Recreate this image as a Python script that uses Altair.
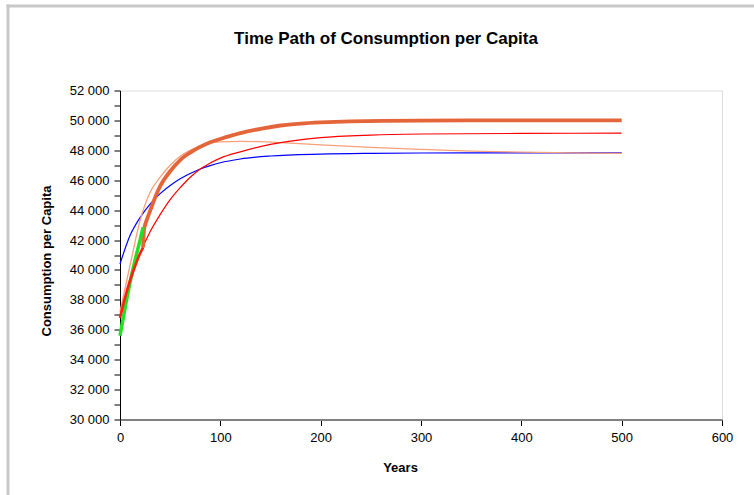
import altair as alt
import pandas as pd

# ---- data ----
blue_years = [0, 10, 20, 30, 40, 50, 60, 70, 80, 90, 100, 120, 150, 200, 250, 300, 400, 500]
blue_vals = [40400, 42300, 43500, 44400, 45100, 45650, 46100, 46450, 46750, 46980, 47170, 47420, 47620, 47750, 47800, 47820, 47830, 47830]

red_years = [0, 10, 20, 30, 40, 50, 60, 70, 80, 90, 100, 120, 150, 200, 250, 300, 400, 500]
red_vals = [36800, 39300, 41100, 42550, 43700, 44700, 45500, 46200, 46750, 47150, 47480, 47900, 48400, 48850, 49020, 49090, 49130, 49150]

lorange_years = [0, 10, 20, 30, 40, 50, 60, 70, 80, 90, 100, 120, 140, 160, 200, 250, 300, 350, 400, 450, 500]
lorange_vals = [37200, 40300, 43300, 45200, 46200, 47000, 47600, 48000, 48320, 48500, 48570, 48600, 48580, 48520, 48370, 48200, 48060, 47950, 47880, 47830, 47800]

thick_years = [23, 24, 27, 30, 35, 40, 50, 60, 70, 80, 90, 100, 120, 140, 160, 180, 200, 230, 300, 400, 500]
thick_vals = [41500, 42700, 43400, 43950, 44850, 45600, 46600, 47350, 47850, 48230, 48540, 48760, 49150, 49440, 49660, 49790, 49870, 49940, 49990, 50000, 50000]

green_years = [0, 5, 10, 15, 20, 23]
green_vals = [35600, 37450, 39150, 40650, 42000, 42850]

thickred_years = [0, 5, 10, 15, 20, 23]
thickred_vals = [36800, 38150, 39300, 40250, 41100, 41500]

y_ticks = list(range(30000, 52001, 1000))
x_ticks = [0, 100, 200, 300, 400, 500, 600]
title_text = "Time Path of Consumption per Capita"

FONT = "Liberation Sans"

x_enc = alt.X(
    "year:Q",
    scale=alt.Scale(domain=[0, 600], nice=False, zero=False),
    axis=alt.Axis(
        values=x_ticks, title="Years", grid=False, labelFlush=False,
        domainColor="#808080", domainWidth=2,
        tickColor="black", tickSize=6, tickWidth=1,
        labelFontSize=13, labelPadding=6, labelColor="black", labelFont=FONT,
        titleFontSize=13, titleFontWeight="bold", titleFont=FONT, titleColor="black",
        titlePadding=17, titleX=280,
    ),
)
y_enc = alt.Y(
    "value:Q",
    scale=alt.Scale(domain=[30000, 52000], nice=False, zero=False),
    axis=alt.Axis(
        values=y_ticks, title="Consumption per Capita", grid=False, labelFlush=False,
        labelExpr="datum.value % 2000 == 0 ? replace(format(datum.value, ','), ',', ' ') : ''",
        domainColor="black", domainWidth=1,
        tickColor="black", tickSize=6, tickWidth=1,
        labelFontSize=13, labelPadding=5, labelColor="black", labelFont=FONT,
        titleFontSize=13, titleFontWeight="bold", titleFont=FONT, titleColor="black",
        titlePadding=16, titleY=170,
    ),
)


def series(years, vals, color, width):
    df = pd.DataFrame({"year": years, "value": vals})
    return alt.Chart(df).mark_line(
        color=color, strokeWidth=width, interpolate="monotone"
    ).encode(x=x_enc, y=y_enc)


one_row = pd.DataFrame({"k": [0]})
frame_v = alt.Chart(one_row).mark_rule(color="#C8C8C8", strokeWidth=3).encode(
    x=alt.value(-112), y=alt.value(-86), y2=alt.value(406)
)
frame_h = alt.Chart(one_row).mark_rule(color="#C8C8C8", strokeWidth=3).encode(
    x=alt.value(-113.5), x2=alt.value(640), y=alt.value(-84.5)
)
title = alt.Chart(one_row).mark_text(
    text=title_text, font=FONT, fontSize=17, fontWeight="bold", color="black",
    align="center", baseline="middle",
).encode(x=alt.value(266), y=alt.value(-52))

chart = alt.layer(
    series(blue_years, blue_vals, "#0000FF", 1.2),
    series(lorange_years, lorange_vals, "#F7A07A", 1.3),
    series(red_years, red_vals, "#FF0000", 1.2),
    series(thick_years, thick_vals, "#E4653A", 3.8),
    series(green_years, green_vals, "#22E022", 3.5),
    series(thickred_years, thickred_vals, "#FF2010", 2.6),
    frame_v,
    frame_h,
    title,
).properties(
    width=602,
    height=329,
    autosize=alt.AutoSizeParams(type="none"),
    padding={"left": 120, "top": 90.5, "right": 32, "bottom": 75.5},
).configure_view(strokeWidth=0).configure(background="white")

chart.save("out.html", embed_options={"renderer": "svg", "actions": False})
